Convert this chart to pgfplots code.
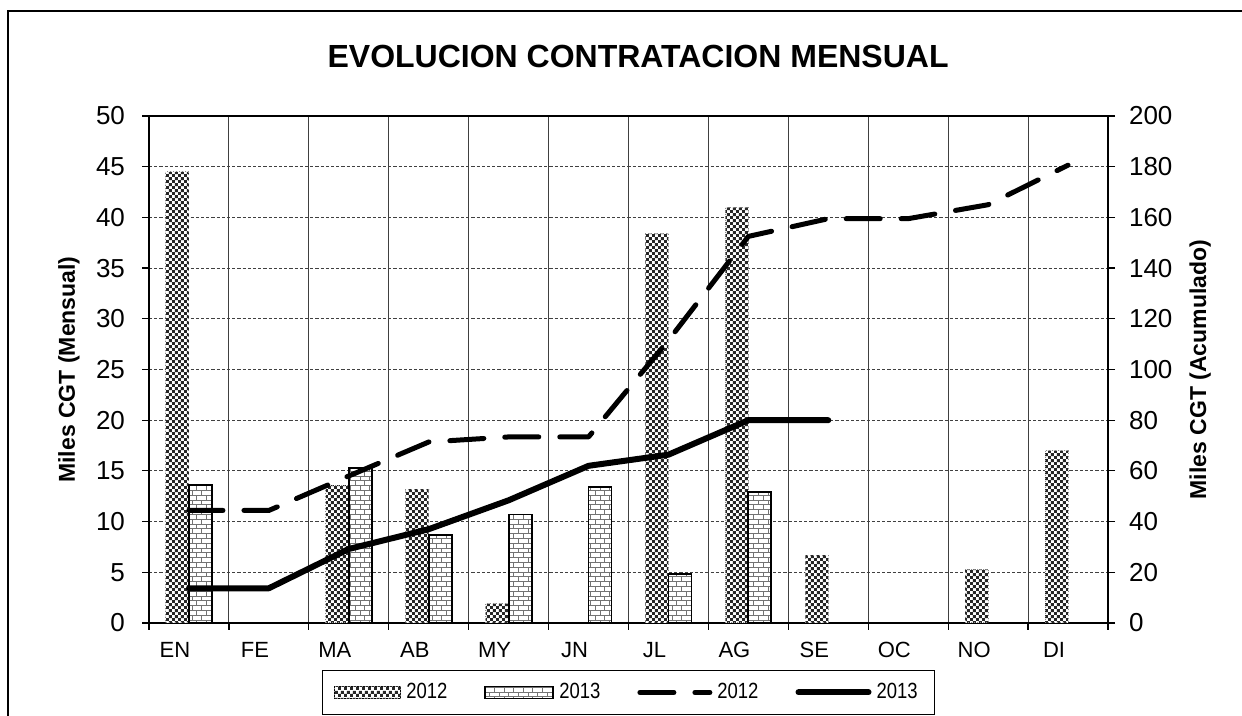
\documentclass[border=0pt]{standalone}
\usepackage{pgfplots}
\pgfplotsset{compat=1.18}
\usepackage{fontspec}
\setmainfont{Liberation Sans}
\newfontfamily\narrowfont[FakeStretch=0.84]{Liberation Sans}
\usetikzlibrary{patterns}

\pgfdeclarepatternformonly{mychecker}{\pgfpointorigin}{\pgfqpoint{3.2pt}{3.2pt}}{\pgfqpoint{3.2pt}{3.2pt}}{%
 \pgfpathrectangle{\pgfpointorigin}{\pgfqpoint{1.6pt}{1.6pt}}%
 \pgfpathrectangle{\pgfqpoint{1.6pt}{1.6pt}}{\pgfqpoint{1.6pt}{1.6pt}}%
 \pgfusepath{fill}%
}
\pgfdeclarepatternformonly{mybricks}{\pgfqpoint{-0.5pt}{-0.5pt}}{\pgfqpoint{5.3pt}{5.3pt}}{\pgfqpoint{4.8pt}{4.8pt}}{%
 \pgfsetlinewidth{0.45pt}%
 \pgfpathmoveto{\pgfqpoint{0pt}{0pt}}\pgfpathlineto{\pgfqpoint{4.8pt}{0pt}}%
 \pgfpathmoveto{\pgfqpoint{0pt}{2.4pt}}\pgfpathlineto{\pgfqpoint{4.8pt}{2.4pt}}%
 \pgfpathmoveto{\pgfqpoint{0pt}{0pt}}\pgfpathlineto{\pgfqpoint{0pt}{2.4pt}}%
 \pgfpathmoveto{\pgfqpoint{2.4pt}{2.4pt}}\pgfpathlineto{\pgfqpoint{2.4pt}{4.8pt}}%
 \pgfusepath{stroke}%
}

\pgfplotstableread{
x y
0.5 44.5
2.5 13.6
3.5 13.2
4.5 1.9
6.5 38.4
7.5 41.0
8.5 6.7
10.5 5.3
11.5 17.0
}\barsA
\pgfplotstableread{
x y
0.5 13.6
2.5 15.25
3.5 8.7
4.5 10.7
5.5 13.4
6.5 4.8
7.5 12.95
}\barsB
\pgfplotstableread{
x y
0.5 44.4
1.5 44.4
2.5 58.0
3.5 71.4
4.5 73.4
5.5 73.4
6.5 111.5
7.5 152.5
8.5 159.5
9.5 159.5
10.5 165.0
11.5 180.6
}\cumA
\pgfplotstableread{
x y
0.5 13.7
1.5 13.7
2.5 29.2
3.5 37.0
4.5 48.4
5.5 62.0
6.5 66.4
7.5 80.0
8.5 80.0
}\cumB

\tikzset{
 checkbar/.style={preaction={fill=white}, pattern=mychecker, pattern color=black!85, draw=black!45, densely dotted, line width=0.5pt},
 brickbar/.style={preaction={fill=white}, pattern=mybricks, pattern color=black!55, draw=black, solid, line width=0.9pt},
}
\pgfplotsset{
 linelegend/.style={legend image code/.code={\draw[##1] (1pt,0pt) -- (36pt,0pt);}},
 checklegend/.style={legend image code/.code={\draw[checkbar] (0pt,-3pt) rectangle (33pt,3pt);}},
 bricklegend/.style={legend image code/.code={\draw[brickbar] (0pt,-3pt) rectangle (34pt,3pt);}},
}

\begin{document}
\begin{tikzpicture}[x=1pt,y=1pt]
\useasboundingbox (0,0) rectangle (621,358);
\draw[line width=0.6pt] (4,-10) -- (4,352.5) -- (640,352.5);
\begin{axis}[
 at={(74.5pt,46.5pt)}, anchor=south west,
 scale only axis, width=479.5pt, height=253.5pt,
 xmin=0, xmax=12, ymin=0, ymax=50,
 xtick={0,...,12}, xticklabels={EN,FE,MA,AB,MY,JN,JL,AG,SE,OC,NO,DI,{}},
 x tick label style={xshift=13pt, yshift=-2.75pt, font=\fontsize{11}{13}\selectfont},
 ytick={0,5,...,50}, ytick pos=left, xtick pos=bottom,
 y tick label style={xshift=-5pt, font=\fontsize{13}{15}\selectfont},
 /pgf/number format/assume math mode=true,
 tick align=outside, major tick length=3.5pt,
 tick style={black, line width=0.6pt},
 grid=major,
 x grid style={black!75, line width=0.5pt},
 y grid style={black!75, line width=0.5pt, dash pattern=on 1.6pt off 1pt},
 axis line style={line width=1pt},
 title={EVOLUCION CONTRATACION MENSUAL},
 title style={at={(axis description cs:0.51,1.093)}, anchor=center, font=\bfseries\fontsize{16}{19}\selectfont},
 ylabel={Miles CGT (Mensual)},
 ylabel style={at={(axis description cs:-0.0834,0.5)}, anchor=center, font=\bfseries\fontsize{11.5}{14}\selectfont},
]
\addplot[ybar, bar width=11.5pt, bar shift=-5.75pt, checkbar] table[x=x,y=y] {\barsA};
\addplot[ybar, bar width=11.5pt, bar shift=5.75pt, brickbar] table[x=x,y=y] {\barsB};
\end{axis}
\begin{axis}[
 at={(74.5pt,46.5pt)}, anchor=south west,
 scale only axis, width=479.5pt, height=253.5pt,
 xmin=0, xmax=12, ymin=0, ymax=200,
 axis x line=none, axis y line*=right,
 ytick={0,20,...,200},
 y tick label style={xshift=3.5pt, font=\fontsize{13}{15}\selectfont},
 /pgf/number format/assume math mode=true,
 tick align=outside, major tick length=3.5pt,
 tick style={black, line width=0.6pt},
 axis line style={line width=1pt},
 ylabel={Miles CGT (Acumulado)},
 ylabel style={at={(axis description cs:1.096,0.5)}, anchor=center, font=\bfseries\fontsize{11.5}{14}\selectfont},
 legend style={at={(axis description cs:0.5,-0.137)}, anchor=center, legend columns=4, draw=black, line width=0.6pt,
   inner xsep=6pt, inner ysep=4.5pt, font=\narrowfont\fontsize{11}{12}\selectfont,
   nodes={inner xsep=2.5pt},
   /tikz/every even column/.append style={column sep=16pt}},
 legend cell align=left,
]
\addlegendimage{checklegend}
\addlegendentry{2012}
\addlegendimage{bricklegend}
\addlegendentry{2013}
\addplot[black, line width=2.5pt, line cap=round, line join=round, dash pattern=on 17pt off 10.5pt, linelegend] table[x=x,y=y] {\cumA};
\addlegendentry{2012}
\addplot[black, line width=3pt, line cap=round, line join=round, linelegend] table[x=x,y=y] {\cumB};
\addlegendentry{2013}
\end{axis}
\end{tikzpicture}
\end{document}
